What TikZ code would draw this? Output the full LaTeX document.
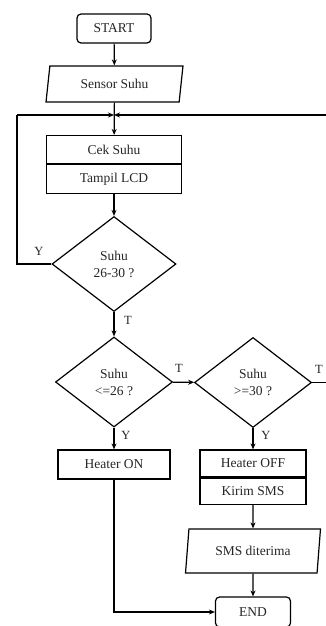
\documentclass[tikz,border=0pt]{standalone}
\usepackage{fontspec}
\setmainfont{Liberation Serif}
\usetikzlibrary{shapes.geometric,arrows.meta,calc}
\begin{document}
\begin{tikzpicture}[x=1pt,y=-1pt,
  every node/.style={font=\fontsize{13.5}{17}\selectfont, inner sep=0pt, text=black!85},
  ln/.style={line width=1.2pt},
  arr/.style={line width=1.2pt, -{Stealth[length=6pt,width=5pt]}},
  term/.style={draw, line width=1.2pt, rounded corners=4pt, rectangle, minimum height=29pt},
  proc/.style={draw, line width=1.2pt, rectangle},
  io/.style={draw, line width=1.2pt, trapezium, trapezium left angle=78, trapezium right angle=102, trapezium stretches=true},
  dec/.style={draw, line width=1.2pt, diamond, align=center, minimum width=117pt, minimum height=90pt},
  lbl/.style={font=\fontsize{12.5}{14}\selectfont}
]
\useasboundingbox (0,0) rectangle (325,626);
\fill[white] (0,0) rectangle (325,626);

\node[term, minimum width=74pt] (start) at (114,28.5) {START};
\node[io, minimum width=137pt, minimum height=36pt] (sensor) at (114.5,84) {Sensor Suhu};
\coordinate (jn) at (114,115);
\node[proc, minimum width=135pt, minimum height=28pt] (cek) at (114,149.5) {Cek Suhu};
\node[proc, minimum width=135pt, minimum height=29pt, anchor=north] (lcd) at (cek.south) {Tampil LCD};
\node[dec, minimum width=124pt, minimum height=95pt] (d1) at (114,264) {Suhu\\26-30 ?};
\node[dec] (d2) at (114,382) {Suhu\\<=26 ?};
\node[dec] (d3) at (253,382.5) {Suhu\\>=30 ?};
\node[proc, minimum width=112pt, minimum height=29pt] (hon) at (114,464.5) {Heater ON};
\node[proc, minimum width=106pt, minimum height=27pt] (hoff) at (253,463.5) {Heater OFF};
\node[proc, minimum width=106pt, minimum height=26pt, anchor=north] (sms) at (hoff.south) {Kirim SMS};
\node[io, minimum width=136pt, minimum height=44pt] (terima) at (253,551) {SMS diterima};
\node[term, minimum width=75pt, minimum height=30pt] (end) at (253,612) {END};

\coordinate (lc) at (17,115);
\coordinate (rc) at (340,115);

\draw[arr] (start) -- (sensor);
\draw[arr] (sensor) -- (cek);
\draw[arr] (lcd) -- (d1);
\draw[ln] (d1.west) -| (lc);
\draw[arr] (lc) -- (jn);
\draw[ln] (d3.east) -| (rc);
\draw[arr] (rc) -- (jn);
\draw[arr] (d1) -- (d2);
\draw[arr] (d2) -- (d3);
\draw[arr] (d2) -- (hon);
\draw[arr] (d3) -- (hoff);
\draw[arr] (sms) -- (terima);
\draw[arr] (terima) -- (end);
\draw[arr] (hon.south) |- (end.west);

\node[lbl] (ly1) at (39,251) {Y};
\node[lbl] (lt1) at (128,320) {T};
\node[lbl] (lt2) at (179,368) {T};
\node[lbl] (lt3) at (319,369) {T};
\node[lbl] (ly2) at (126,435) {Y};
\node[lbl] (ly3) at (266,435) {Y};
\end{tikzpicture}
\end{document}
